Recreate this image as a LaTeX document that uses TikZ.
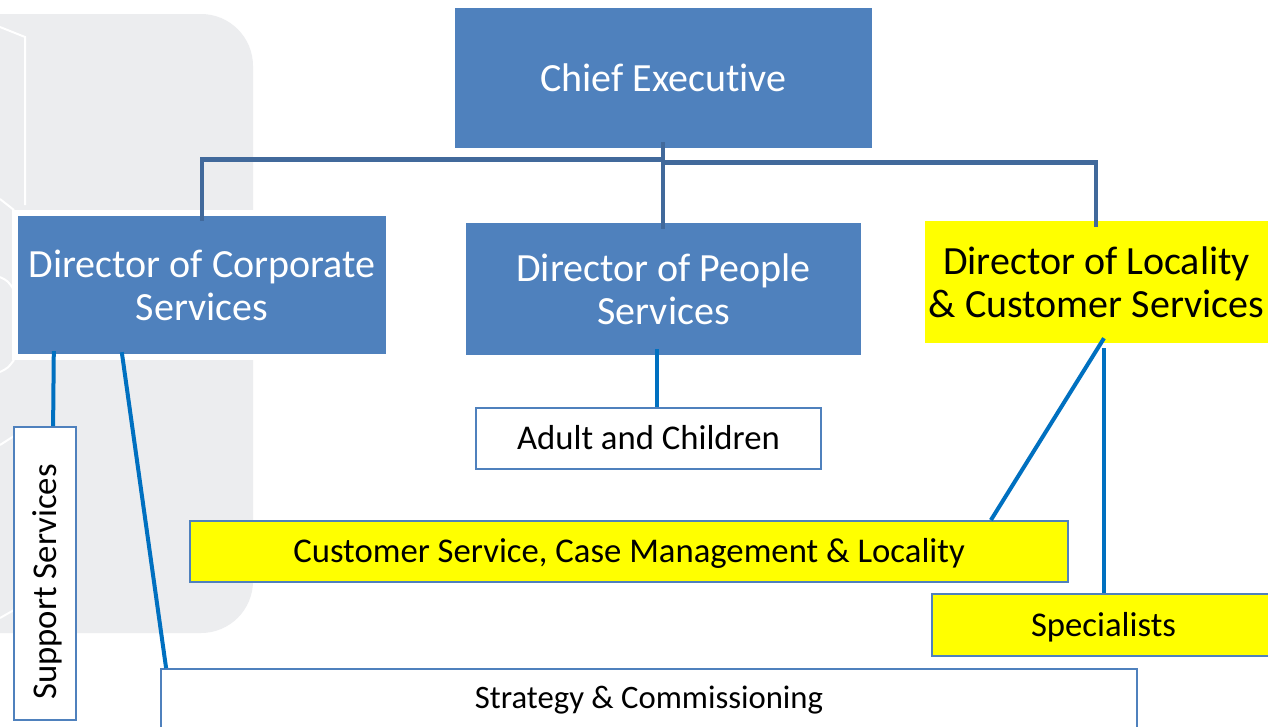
\documentclass[tikz,border=0pt]{standalone}
\usepackage{fontspec}
\setmainfont{Carlito}[Ligatures=NoCommon]
\usepackage{graphicx}
\usetikzlibrary{calc}
\definecolor{boxblue}{RGB}{79,129,189}
\definecolor{barblue}{RGB}{65,105,155}
\definecolor{linkblue}{RGB}{0,112,192}
\definecolor{wmgrey}{RGB}{236,237,239}
\definecolor{hiyellow}{RGB}{255,255,0}
\tikzset{
  bigbox/.style={rectangle, inner sep=0pt, preaction={draw=white, line width=12pt},
    font=\fontsize{40}{43}\selectfont, align=center},
  bluebox/.style={bigbox, fill=boxblue, text=white},
  yelbig/.style={bigbox, fill=hiyellow, text=black},
  smallbox/.style={rectangle, inner sep=0pt, draw=boxblue, line width=1.8pt, fill=white,
    font=\fontsize{34.7}{40}\selectfont, text=black, text height=22pt, text depth=0pt},
  yelsmall/.style={smallbox, fill=hiyellow},
  bar/.style={draw=barblue, line width=4.5pt},
  link/.style={draw=linkblue, line width=4pt},
  wm/.style={draw=white, line width=2pt},
}
\begin{document}
\begin{tikzpicture}[x=1pt, y=-1pt]
\useasboundingbox (0,0) rectangle (1268,726);
\clip (0,0) rectangle (1268,726);
\fill[white] (0,0) rectangle (1268,726);
% watermark
\fill[wmgrey, rounded corners=52pt] (-60,14) rectangle (253,633);
\draw[wm] (0,27) -- (25,37) -- (25,205);
\draw[wm] (0,199) -- (14,210);
\draw[wm] (0,277) .. controls (8,281) .. (14,290);
\draw[wm] (0,372) .. controls (8,368) .. (14,360);
\draw[wm] (0,445) -- (14,436);
\draw[wm] (0,618) -- (14,610);
% bar junctions
\coordinate (barL) at (663,159.5);
\coordinate (barR) at (663,162.7);
% level-1 boxes
\node[bluebox, minimum width=417pt, minimum height=140pt] (ce) at (663.5,78) {Chief Executive};
\node[bluebox, minimum width=368pt, minimum height=138pt] (corp) at (202,285) {Director of Corporate\\Services};
\node[bluebox, minimum width=395pt, minimum height=132pt] (people) at (663.5,289) {Director of People\\Services};
\node[yelbig, minimum width=343pt, minimum height=122pt] (loc) at (1096.5,282) {Director of Locality\\\& Customer Services};
% level-1 connectors
\draw[bar] ($(ce.south)+(-0.5,-6)$) -- ($(people.north)+(-0.5,6)$);
\draw[bar] ($(corp.north)+(0,5)$) |- (barL);
\draw[bar] ($(loc.north)+(-0.5,6)$) |- (barR);
% level-2 boxes
\node[smallbox, minimum width=62pt, minimum height=293pt, text height=, text depth=] (sup) at (45,573.5)
  {\rotatebox{90}{\hspace*{-17pt}\smash{Support Services}\rule{0pt}{22pt}}};
\node[smallbox, minimum width=345pt, minimum height=61pt] (adult) at (648.5,438.5) {Adult and Children};
\node[yelsmall, minimum width=878pt, minimum height=61pt] (cust) at (629,551.5) {Customer Service, Case Management \& Locality};
\node[yelsmall, minimum width=343pt, minimum height=62pt] (spec) at (1103.5,625) {Specialists};
\node[smallbox, minimum width=976pt, minimum height=62pt, font=\fontsize{32.7}{38}\selectfont, text height=16pt] (strat) at (649,700) {Strategy \& Commissioning};
% level-2 connectors
\draw[link] ($(corp.south west)+(36,-3)$) -- ($(sup.north west)+(40,0)$);
\draw[link] ($(corp.south west)+(104,-2)$) -- ($(strat.north west)+(6,0)$);
\draw[link] ($(people.south)+(-6.5,-6)$) -- ($(adult.north)+(8.5,0)$);
\draw[link] ($(loc.south)+(7.5,-5)$) -- ($(cust.north east)+(-78,0)$);
\draw[link] ($(loc.south)+(7.5,5)$) -- ($(spec.north)+(0.5,0)$);
\end{tikzpicture}
\end{document}
